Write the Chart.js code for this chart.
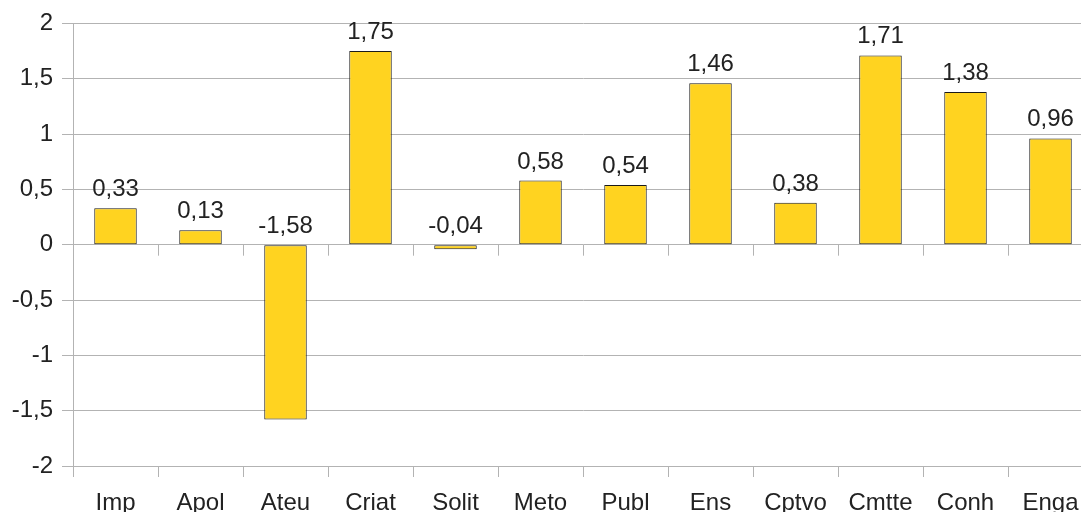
<!DOCTYPE html>
<html>
<head>
<meta charset="utf-8">
<script src="https://cdn.jsdelivr.net/npm/chart.js@4"></script>
<style>
  html, body { margin: 0; padding: 0; overflow: hidden; background: #fff; }
</style>
</head>
<body>
<canvas id="barChart" width="1093" height="512"></canvas>
<script>
var categories = ['Imp', 'Apol', 'Ateu', 'Criat', 'Solit', 'Meto', 'Publ', 'Ens', 'Cptvo', 'Cmtte', 'Conh', 'Enga'];
var values = [0.33, 0.13, -1.58, 1.75, -0.04, 0.58, 0.54, 1.46, 0.38, 1.71, 1.38, 0.96];
var yTicks = [-2, -1.5, -1, -0.5, 0, 0.5, 1, 1.5, 2];

var gridColor = '#b3b3b3';
var fontName = '"Liberation Sans", Arial, sans-serif';

function comma(v) {
    return String(v).replace('.', ',');
}

// value labels above bars (negative ones sit above the zero line)
var valueLabels = {
    id: 'valueLabels',
    afterDatasetsDraw: function (chart) {
        var ctx = chart.ctx;
        var meta = chart.getDatasetMeta(0);
        var y0 = chart.scales.y.getPixelForValue(0);
        ctx.save();
        ctx.font = '24px ' + fontName;
        ctx.fillStyle = '#222';
        ctx.textAlign = 'center';
        ctx.textBaseline = 'alphabetic';
        meta.data.forEach(function (bar, i) {
            var top = Math.min(bar.y, y0);
            ctx.fillText(comma(values[i]), bar.x, top - 12);
        });
        ctx.restore();
    }
};

// small tick marks hanging under the zero line between categories
var zeroTicks = {
    id: 'zeroTicks',
    afterDraw: function (chart) {
        var ctx = chart.ctx;
        var x = chart.scales.x;
        var y0 = chart.scales.y.getPixelForValue(0);
        ctx.save();
        ctx.strokeStyle = gridColor;
        ctx.lineWidth = 1;
        for (var i = 0; i <= categories.length; i++) {
            var px = Math.round(x.getPixelForValue(i) - (x.getPixelForValue(1) - x.getPixelForValue(0)) / 2) + 0.5;
            ctx.beginPath();
            ctx.moveTo(px, y0);
            ctx.lineTo(px, y0 + 11);
            ctx.stroke();
        }
        ctx.restore();
    }
};

var ctx = document.getElementById('barChart').getContext('2d');
var chart = new Chart(ctx, {
    type: 'bar',
    data: {
        labels: categories,
        datasets: [{
            data: values,
            backgroundColor: '#ffd320',
            borderColor: '#1a1a1a',
            borderWidth: 1,
            borderSkipped: false,
            barPercentage: 0.5,
            categoryPercentage: 1.0
        }]
    },
    options: {
        responsive: false,
        animation: false,
        layout: { padding: { top: 23, left: 0, right: 0, bottom: 0 } },
        plugins: {
            legend: { display: false },
            tooltip: { enabled: false }
        },
        scales: {
            x: {
                grid: {
                    display: true,
                    drawOnChartArea: false,
                    offset: true,
                    color: gridColor,
                    tickLength: 11
                },
                border: { display: false },
                ticks: {
                    color: '#222',
                    font: { family: fontName, size: 24 },
                    padding: 12,
                    maxRotation: 0,
                    autoSkip: false
                },
                afterFit: function (s) { s.height = 46; }
            },
            y: {
                min: -2,
                max: 2,
                afterBuildTicks: function (s) {
                    s.ticks = yTicks.map(function (v) { return { value: v }; });
                },
                grid: {
                    color: gridColor,
                    tickLength: 11
                },
                border: { color: gridColor },
                ticks: {
                    color: '#222',
                    font: { family: fontName, size: 24 },
                    padding: 9,
                    callback: function (v) { return comma(v); }
                },
                afterFit: function (s) { s.width = 73; }
            }
        }
    },
    plugins: [valueLabels, zeroTicks]
});
</script>
</body>
</html>
